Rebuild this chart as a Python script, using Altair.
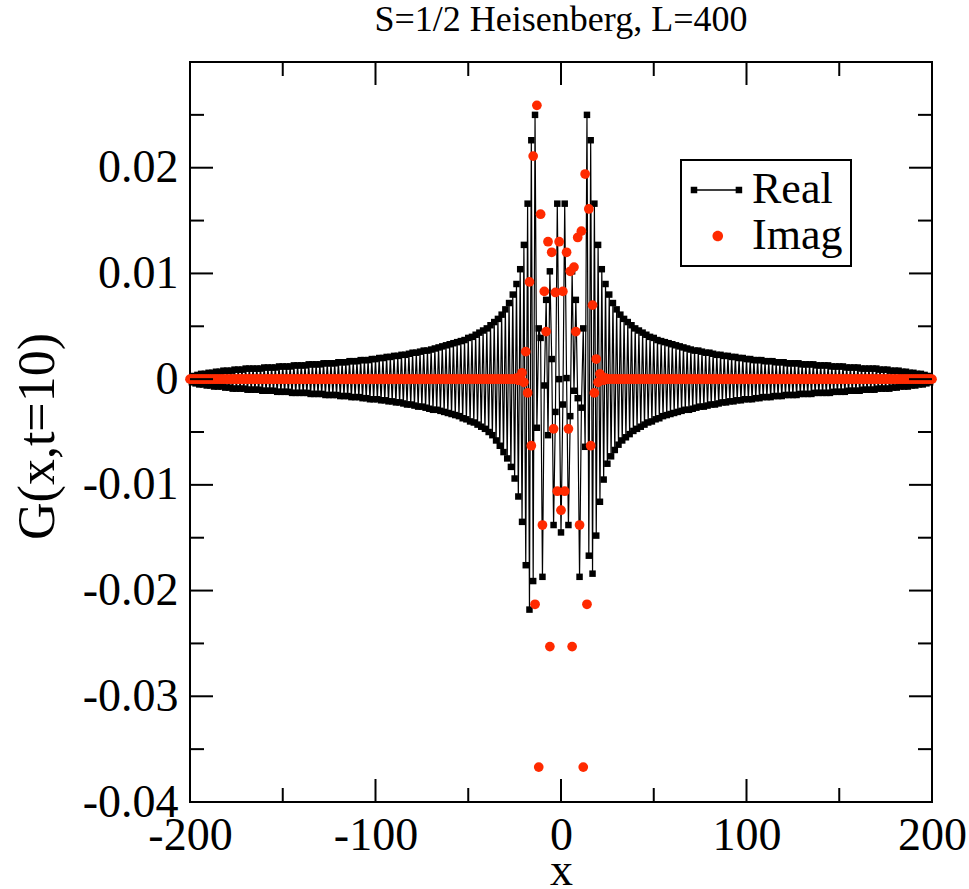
import altair as alt
import pandas as pd

TITLE = "S=1/2 Heisenberg, L=400"
X_TITLE = "x"
Y_TITLE = "G(x,t=10)"
SERIES = ["Real", "Imag"]

# lattice sites
SITES = list(range(-200, 201))

# Real part, x = -200 ... -22
REAL_LEFT = [
    0.0, -0.0003, 0.0003, -0.0004, 0.0004, -0.0005, 0.0005, -0.0005, 0.0005, -0.0006,
    0.0006, -0.0006, 0.0006, -0.0007, 0.0007, -0.0007, 0.0007, -0.0007, 0.0008, -0.0008,
    0.0008, -0.0008, 0.0008, -0.0009, 0.0009, -0.0009, 0.0009, -0.0009, 0.0009, -0.0009,
    0.0010, -0.0010, 0.0010, -0.0010, 0.0010, -0.0010, 0.0010, -0.0010, 0.0010, -0.0011,
    0.0011, -0.0011, 0.0011, -0.0011, 0.0011, -0.0011, 0.0011, -0.0012, 0.0012, -0.0012,
    0.0012, -0.0012, 0.0012, -0.0012, 0.0012, -0.0013, 0.0013, -0.0013, 0.0013, -0.0013,
    0.0013, -0.0013, 0.0013, -0.0013, 0.0014, -0.0014, 0.0014, -0.0014, 0.0014, -0.0014,
    0.0014, -0.0014, 0.0015, -0.0015, 0.0015, -0.0015, 0.0015, -0.0015, 0.0015, -0.0015,
    0.0016, -0.0016, 0.0016, -0.0016, 0.0016, -0.0016, 0.0017, -0.0017, 0.0017, -0.0017,
    0.0017, -0.0017, 0.0018, -0.0018, 0.0018, -0.0018, 0.0018, -0.0019, 0.0019, -0.0019,
    0.0019, -0.0019, 0.0020, -0.0020, 0.0020, -0.0020, 0.0021, -0.0021, 0.0021, -0.0021,
    0.0022, -0.0022, 0.0022, -0.0022, 0.0023, -0.0023, 0.0023, -0.0024, 0.0024, -0.0024,
    0.0025, -0.0025, 0.0025, -0.0026, 0.0026, -0.0026, 0.0027, -0.0027, 0.0027, -0.0028,
    0.0028, -0.0029, 0.0029, -0.0029, 0.0030, -0.0030, 0.0031, -0.0031, 0.0032, -0.0032,
    0.0033, -0.0033, 0.0034, -0.0034, 0.0035, -0.0035, 0.0036, -0.0037, 0.0037, -0.0038,
    0.0039, -0.0040, 0.0040, -0.0041, 0.0042, -0.0043, 0.0044, -0.0045, 0.0046,
    -0.0047, 0.0048, -0.0050, 0.0051, -0.0053, 0.0054, -0.0058, 0.0057, -0.0063, 0.0061,
    -0.0069, 0.0066, -0.0075, 0.0072, -0.0083, 0.0080, -0.0094, 0.0090, -0.0111, 0.0104,
]

# Real part, x = -21 ... 21
REAL_CENTER = [
    -0.0135, 0.0127, -0.0176, 0.0166, -0.0218, 0.0226, -0.0191, 0.0250, -0.0046, 0.0048,
    0.0039, -0.0187, -0.0006, 0.0075, -0.0053, 0.0102, 0.0019, -0.0138, -0.0031, 0.0166,
    0.0000, -0.0145, -0.0024, 0.0166, 0.0001, -0.0138, -0.0035, 0.0102, -0.0011, 0.0075,
    -0.0018, -0.0187, -0.0027, 0.0048, -0.0064, 0.0250, -0.0167, 0.0226, -0.0184, 0.0166,
    -0.0148, 0.0127, -0.0116,
]

# Real part, x = 22 ... 200
REAL_RIGHT = [
    0.0104, -0.0095, 0.0090, -0.0080, 0.0080, -0.0073, 0.0072, -0.0067, 0.0066, -0.0062,
    0.0061, -0.0058, 0.0057, -0.0055, 0.0054, -0.0052, 0.0051, -0.0049, 0.0048, -0.0047,
    0.0046, -0.0045, 0.0044, -0.0043, 0.0042, -0.0041, 0.0040, -0.0040, 0.0039,
    -0.0038, 0.0037, -0.0037, 0.0036, -0.0035, 0.0035, -0.0034, 0.0034, -0.0033, 0.0033,
    -0.0032, 0.0032, -0.0031, 0.0031, -0.0030, 0.0030, -0.0029, 0.0029, -0.0029, 0.0028,
    -0.0028, 0.0027, -0.0027, 0.0027, -0.0026, 0.0026, -0.0026, 0.0025, -0.0025, 0.0025,
    -0.0024, 0.0024, -0.0024, 0.0023, -0.0023, 0.0023, -0.0022, 0.0022, -0.0022, 0.0022,
    -0.0021, 0.0021, -0.0021, 0.0021, -0.0020, 0.0020, -0.0020, 0.0020, -0.0019, 0.0019,
    -0.0019, 0.0019, -0.0019, 0.0018, -0.0018, 0.0018, -0.0018, 0.0018, -0.0017, 0.0017,
    -0.0017, 0.0017, -0.0017, 0.0017, -0.0016, 0.0016, -0.0016, 0.0016, -0.0016, 0.0016,
    -0.0015, 0.0015, -0.0015, 0.0015, -0.0015, 0.0015, -0.0015, 0.0015, -0.0014, 0.0014,
    -0.0014, 0.0014, -0.0014, 0.0014, -0.0014, 0.0014, -0.0013, 0.0013, -0.0013, 0.0013,
    -0.0013, 0.0013, -0.0013, 0.0013, -0.0013, 0.0012, -0.0012, 0.0012, -0.0012, 0.0012,
    -0.0012, 0.0012, -0.0012, 0.0011, -0.0011, 0.0011, -0.0011, 0.0011, -0.0011, 0.0011,
    -0.0011, 0.0010, -0.0010, 0.0010, -0.0010, 0.0010, -0.0010, 0.0010, -0.0010, 0.0010,
    -0.0009, 0.0009, -0.0009, 0.0009, -0.0009, 0.0009, -0.0009, 0.0008, -0.0008, 0.0008,
    -0.0008, 0.0008, -0.0007, 0.0007, -0.0007, 0.0007, -0.0007, 0.0006, -0.0006, 0.0006,
    -0.0006, 0.0005, -0.0005, 0.0005, -0.0005, 0.0004, -0.0004, 0.0003, -0.0003, 0.0,
]

# Imaginary part, x = -200 ... -22
IMAG_LEFT = [
    0, 0, 0, 0, 0, 0, 0, 0, 0, 0,
    0, 0, 0, 0, 0, 0, 0, 0, 0, 0,
    0, 0, 0, 0, 0, 0, 0, 0, 0, 0,
    0, 0, 0, 0, 0, 0, 0, 0, 0, 0,
    0, 0, 0, 0, 0, 0, 0, 0, 0, 0,
    0, 0, 0, 0, 0, 0, 0, 0, 0, 0,
    0, 0, 0, 0, 0, 0, 0, 0, 0, 0,
    0, 0, 0, 0, 0, 0, 0, 0, 0, 0,
    0, 0, 0, 0, 0, 0, 0, 0, 0, 0,
    0, 0, 0, 0, 0, 0, 0, 0, 0, 0,
    0, 0, 0, 0, 0, 0, 0, 0, 0, 0,
    0, 0, 0, 0, 0, 0, 0, 0, 0, 0,
    0, 0, 0, 0, 0, 0, 0, 0, 0, 0,
    0, 0, 0, 0, 0, 0, 0, 0, 0, 0,
    0, 0, 0, 0, 0, 0, 0, 0, 0, 0,
    0, 0, 0, 0, 0, 0, 0, 0, 0, 0,
    0, 0, 0, 0, 0, 0, 0, 0, 0, 0,
    0, 0, 0, 0, 0, 0, 0.0001, -0.0001, 0.0002,
]

# Imaginary part, x = -21 ... 21
IMAG_CENTER = [
    0.0006, -0.0003, 0.0026, -0.0013, 0.0092, -0.0063, 0.0211, -0.0213, 0.0259, -0.0367,
    0.0156, -0.0138, 0.0083, 0.0045, 0.0130, -0.0253, 0.0120, -0.0047, 0.0082, -0.0106,
    0.0130, -0.0124, 0.0083, -0.0106, 0.0120, -0.0047, 0.0102, -0.0253, 0.0106, 0.0045,
    0.0134, -0.0138, 0.0140, -0.0367, 0.0194, -0.0213, 0.0161, -0.0063, 0.0070, -0.0013,
    0.0019, -0.0003, 0.0005,
]

# Imaginary part, x = 22 ... 200
IMAG_RIGHT = [
    0.0002, -0.0001, 0.0001, 0, 0, 0, 0, 0, 0,
    0, 0, 0, 0, 0, 0, 0, 0, 0, 0,
    0, 0, 0, 0, 0, 0, 0, 0, 0, 0,
    0, 0, 0, 0, 0, 0, 0, 0, 0, 0,
    0, 0, 0, 0, 0, 0, 0, 0, 0, 0,
    0, 0, 0, 0, 0, 0, 0, 0, 0, 0,
    0, 0, 0, 0, 0, 0, 0, 0, 0, 0,
    0, 0, 0, 0, 0, 0, 0, 0, 0, 0,
    0, 0, 0, 0, 0, 0, 0, 0, 0, 0,
    0, 0, 0, 0, 0, 0, 0, 0, 0, 0,
    0, 0, 0, 0, 0, 0, 0, 0, 0, 0,
    0, 0, 0, 0, 0, 0, 0, 0, 0, 0,
    0, 0, 0, 0, 0, 0, 0, 0, 0, 0,
    0, 0, 0, 0, 0, 0, 0, 0, 0, 0,
    0, 0, 0, 0, 0, 0, 0, 0, 0, 0,
    0, 0, 0, 0, 0, 0, 0, 0, 0, 0,
    0, 0, 0, 0, 0, 0, 0, 0, 0, 0,
    0, 0, 0, 0, 0, 0, 0, 0, 0, 0,
]

X_TICK_LABELS = [-200, -100, 0, 100, 200]
X_MINOR = [-150, -50, 50, 150]
Y_TICK_LABELS = [-0.04, -0.03, -0.02, -0.01, 0.0, 0.01, 0.02]
Y_MAJOR = [-0.04, -0.03, -0.02, -0.01, 0.0, 0.01, 0.02, 0.03]
Y_MINOR = [-0.035, -0.025, -0.015, -0.005, 0.005, 0.015, 0.025]

real = REAL_LEFT + REAL_CENTER + REAL_RIGHT
imag = IMAG_LEFT + IMAG_CENTER + IMAG_RIGHT
assert len(real) == len(SITES) == len(imag)

df_real = pd.DataFrame({"x": SITES, "g": real})
df_imag = pd.DataFrame({"x": SITES, "g": imag})
df_leg = pd.DataFrame({"x": [500, 500], "g": [0.0, 0.0], "series": SERIES})

FONT = "Liberation Serif"
RED = "#ff2a00"
MINUS = "\u2212"
W, H = 742, 740
MAJ, MIN = 23, 14

XS = alt.Scale(domain=[-200, 200], nice=False, zero=False)
YS = alt.Scale(domain=[-0.04, 0.03], nice=False, zero=False)

XAXIS = alt.Axis(
    values=X_TICK_LABELS, title=X_TITLE, grid=False, ticks=False, domain=False, tickSize=0,
    labelExpr=f"replace(format(datum.value, 'd'), '{MINUS}', '-')",
    labelFont=FONT, labelFontSize=46, labelColor="black", labelPadding=11,
    labelFlush=False, labelOverlap=False, labelBound=False,
    titleFont=FONT, titleFontSize=46, titleFontWeight="normal", titleColor="black",
    titleBaseline="alphabetic", titleY=82, titleX=W / 2, titleAlign="center",
)
YAXIS = alt.Axis(
    values=Y_TICK_LABELS, title=Y_TITLE, grid=False, ticks=False, domain=False, tickSize=0,
    labelExpr=f"replace(format(datum.value, '.2~f'), '{MINUS}', '-')",
    labelFont=FONT, labelFontSize=46, labelColor="black", labelPadding=12,
    labelFlush=False, labelOverlap=False, labelBound=False,
    titleFont=FONT, titleFontSize=52, titleFontWeight="normal", titleColor="black",
    titleAngle=270, titleBaseline="alphabetic", titleAlign="center",
    titleX=-137, titleY=374,
)

X = alt.X("x:Q", scale=XS, axis=XAXIS)
Y = alt.Y("g:Q", scale=YS, axis=YAXIS)

real_line = alt.Chart(df_real).mark_line(color="black", strokeWidth=1.2).encode(x=X, y=Y)
real_pts = alt.Chart(df_real).mark_square(color="black", size=42, opacity=1, filled=True).encode(x=X, y=Y)
imag_pts = alt.Chart(df_imag).mark_circle(color=RED, size=95, opacity=1).encode(x=X, y=Y)

# legend glyphs in the unit box of a 42 px symbol (21 px per unit)
PATH_REAL = ("M-0.81,-0.03L1.33,-0.03L1.33,0.03L-0.81,0.03Z "
             "M-0.965,-0.155L-0.655,-0.155L-0.655,0.155L-0.965,0.155Z "
             "M1.175,-0.155L1.485,-0.155L1.485,0.155L1.175,0.155Z")
PATH_IMAG = "M0.07,0A0.252,0.252,0,1,1,0.574,0A0.252,0.252,0,1,1,0.07,0Z"

LEG = alt.Legend(
    title=None, orient="none", legendX=491, legendY=98, padding=8,
    strokeColor="black", fillColor="white",
    labelFont=FONT, labelFontSize=44, labelColor="black", labelOffset=19,
    labelExpr="datum.label + '\u00a0'",
    symbolSize=1764, symbolStrokeWidth=0, symbolOpacity=1, rowPadding=2,
)
legend_layer = alt.Chart(df_leg).mark_point(filled=True, opacity=1, clip=True).encode(
    x=X, y=Y,
    color=alt.Color("series:N", scale=alt.Scale(domain=SERIES, range=["black", RED]), legend=LEG),
    shape=alt.Shape("series:N", scale=alt.Scale(domain=SERIES, range=[PATH_REAL, PATH_IMAG]), legend=LEG),
)


def xticks(vals, y0, y1):
    return alt.Chart(pd.DataFrame({"x": vals})).mark_rule(color="black", strokeWidth=2).encode(
        x=X, y=alt.value(y0), y2=alt.value(y1))


def yticks(vals, x0, x1):
    return alt.Chart(pd.DataFrame({"g": vals})).mark_rule(color="black", strokeWidth=2).encode(
        y=Y, x=alt.value(x0), x2=alt.value(x1))


ticks = [
    xticks(X_TICK_LABELS, H, H - MAJ), xticks(X_MINOR, H, H - MIN),
    xticks(X_TICK_LABELS, 0, MAJ), xticks(X_MINOR, 0, MIN),
    yticks(Y_MAJOR, 0, MAJ), yticks(Y_MINOR, 0, MIN),
    yticks(Y_MAJOR, W, W - MAJ), yticks(Y_MINOR, W, W - MIN),
]

chart = alt.layer(real_line, real_pts, imag_pts, legend_layer, *ticks).properties(
    width=W, height=H,
    title=alt.TitleParams(TITLE, font=FONT, fontSize=36, fontWeight="normal", color="black",
                          anchor="middle", baseline="alphabetic", offset=-6),
    padding={"left": 190, "top": 62, "right": 37, "bottom": 87},
    autosize=alt.AutoSizeParams(type="none"),
).configure_view(stroke="black", strokeWidth=2).configure_legend(strokeWidth=2)

chart.save("out.html", embed_options={"renderer": "svg", "actions": False})
